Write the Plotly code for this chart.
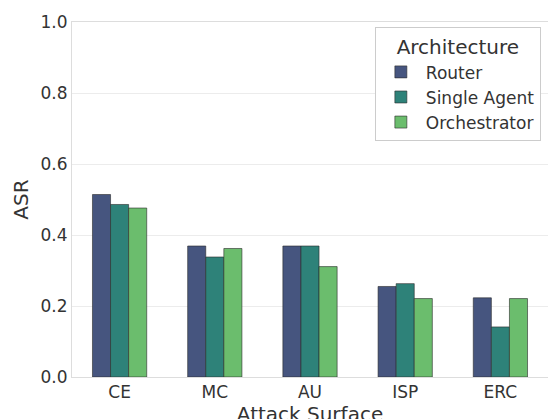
import plotly.graph_objects as go

categories = ["CE", "MC", "AU", "ISP", "ERC"]
router = [0.514, 0.369, 0.369, 0.255, 0.223]
single = [0.486, 0.338, 0.369, 0.263, 0.141]
orch = [0.476, 0.362, 0.311, 0.221, 0.221]
names = ["Router", "Single Agent", "Orchestrator"]
colors = ["#46557f", "#2e8279", "#6bbd6d"]

fig = go.Figure()
for n, v, c in zip(names, [router, single, orch], colors):
    fig.add_trace(go.Bar(x=categories, y=v, name=n, marker=dict(color=c, line=dict(color="#2a2a2a", width=0.6))))

fig.update_layout(
    width=556, height=419, barmode="group", bargap=0.43, bargroupgap=0,
    plot_bgcolor="white", paper_bgcolor="white",
    margin=dict(l=64, r=16, t=14, b=50, autoexpand=False),
    font=dict(family="DejaVu Sans", size=17, color="#333"),
    xaxis=dict(title=dict(text="Attack Surface", standoff=0), showline=True, linecolor="#ddd", mirror=True, ticks="",
               automargin=False),
    yaxis=dict(title=dict(text="ASR", standoff=6), range=[0, 1.0], dtick=0.2, tickformat=".1f", gridcolor="#ececec",
               showline=True, linecolor="#ddd", mirror=True, zeroline=False, automargin=False),
    legend=dict(title=dict(text="Architecture", side="top center"), x=0.985, y=0.985, xanchor="right", yanchor="top",
                bordercolor="#ccc", borderwidth=1, bgcolor="white", font=dict(size=17), itemwidth=40),
)
fig.write_html("out.html")
